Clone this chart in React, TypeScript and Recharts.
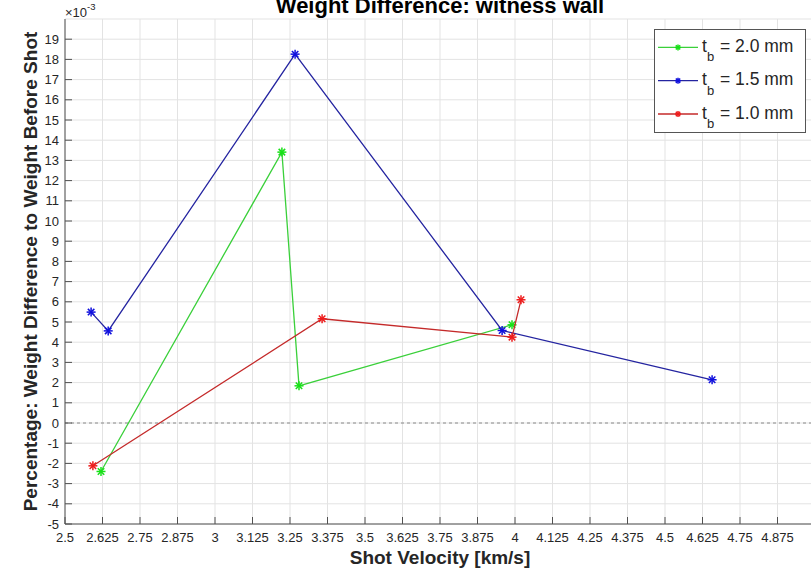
import React from 'react'
import {
  CartesianGrid,
  Legend,
  ReferenceLine,
  Scatter,
  ScatterChart,
  XAxis,
  YAxis,
} from 'recharts'

// shot velocity [km/s] and weight difference [x1e-3 %] per bumper thickness
const thickness = ['2.0', '1.5', '1.0']

const velocity20 = [2.62, 3.223, 3.28, 3.99]
const diff20 = [-2.4, 13.41, 1.84, 4.86]

const velocity15 = [2.587, 2.644, 3.267, 3.957, 4.657]
const diff15 = [5.49, 4.56, 18.26, 4.58, 2.14]

const velocity10 = [2.593, 3.357, 3.99, 4.02]
const diff10 = [-2.12, 5.16, 4.25, 6.1]

const xTicks = [
  2.5, 2.625, 2.75, 2.875, 3, 3.125, 3.25, 3.375, 3.5, 3.625, 3.75, 3.875,
  4, 4.125, 4.25, 4.375, 4.5, 4.625, 4.75, 4.875, 5,
]
const yTicks = [-5, -4, -3, -2, -1, 0, 1, 2, 3, 4, 5, 6, 7, 8, 9, 10, 11, 12, 13, 14, 15, 16, 17, 18, 19]

const X_MAX = 5
const FONT = '"Liberation Sans", Arial, Helvetica, sans-serif'
const AXIS = '#505050'
const TEXT = '#262626'
const TICK_LEN = 7

const toPoints = (xs: number[], ys: number[]) => xs.map((x, i) => ({ x, y: ys[i] }))

const series = [
  { name: thickness[0], line: '#3ad03a', marker: '#18e018', data: toPoints(velocity20, diff20) },
  { name: thickness[1], line: '#2424a0', marker: '#1010dd', data: toPoints(velocity15, diff15) },
  { name: thickness[2], line: '#c42a2a', marker: '#ee1c1c', data: toPoints(velocity10, diff10) },
]

// MATLAB-style '*' marker: a plus and an x on top of each other
function Asterisk({ cx, cy, color, r = 4.5 }: { cx: number; cy: number; color: string; r?: number }) {
  const d = r * 0.72
  return (
    <g stroke={color} strokeWidth={1.5}>
      <line x1={cx - r} x2={cx + r} y1={cy} y2={cy} />
      <line x1={cx} x2={cx} y1={cy - r} y2={cy + r} />
      <line x1={cx - d} x2={cx + d} y1={cy - d} y2={cy + d} />
      <line x1={cx - d} x2={cx + d} y1={cy + d} y2={cy - d} />
    </g>
  )
}

// ticks point inward; the last x tick sits on the right border and has no label
const BottomTick = ({ x, y, payload }: any) => (
  <g>
    <line x1={x} x2={x} y1={y} y2={y - TICK_LEN} stroke={AXIS} />
    {payload.value < X_MAX && (
      <text x={x} y={y + 18} textAnchor="middle" fontSize={13} fontFamily={FONT} fill={TEXT}>
        {payload.value}
      </text>
    )}
  </g>
)

const TopTick = ({ x, y }: any) => <line x1={x} x2={x} y1={y} y2={y + TICK_LEN} stroke={AXIS} />

const LeftTick = ({ x, y, payload }: any) => (
  <g>
    <line x1={x} x2={x + TICK_LEN} y1={y} y2={y} stroke={AXIS} />
    <text x={x - 6} y={y + 4.5} textAnchor="end" fontSize={13} fontFamily={FONT} fill={TEXT}>
      {payload.value}
    </text>
  </g>
)

const RightTick = ({ x, y }: any) => <line x1={x} x2={x - TICK_LEN} y1={y} y2={y} stroke={AXIS} />

function LegendBox() {
  return (
    <svg width={152} height={104} style={{ display: 'block' }}>
      <rect x={0.5} y={0.5} width={151} height={103} fill="#fff" stroke="#555" />
      {series.map((s, i) => {
        const cy = 18.4 + i * 33.3
        return (
          <g key={s.name}>
            <line x1={4} x2={44} y1={cy} y2={cy} stroke={s.line} strokeWidth={1.3} />
            <Asterisk cx={24} cy={cy} color={s.marker} r={3} />
            <text x={48} y={cy + 4.5} fontSize={17.5} fontFamily={FONT} fill={TEXT}>
              t
              <tspan fontSize={13} dy={9.5}>b</tspan>
              <tspan x={66} dy={-9.5}>= {s.name} mm</tspan>
            </text>
          </g>
        )
      })}
    </svg>
  )
}

export default function App() {
  return (
    <div style={{ position: 'absolute', left: 0, top: 0, width: 811, height: 573, overflow: 'hidden', background: '#fff' }}>
      <ScatterChart width={820} height={573} margin={{ top: 19, right: 5, bottom: 0, left: 0 }}>
        <CartesianGrid stroke="#e3e3e3" />
        <XAxis
          dataKey="x"
          type="number"
          domain={[2.5, X_MAX]}
          ticks={xTicks}
          interval={0}
          height={49}
          tickSize={0}
          tickMargin={0}
          stroke={AXIS}
          tick={<BottomTick />}
          label={(p: any) => (
            <text
              x={p.viewBox.x + p.viewBox.width / 2}
              y={p.viewBox.y + 40}
              textAnchor="middle"
              fontSize={19}
              fontWeight="bold"
              fontFamily={FONT}
              fill={TEXT}
            >
              Shot Velocity [km/s]
            </text>
          )}
        />
        <XAxis
          xAxisId="top"
          orientation="top"
          type="number"
          domain={[2.5, X_MAX]}
          ticks={xTicks}
          interval={0}
          height={0}
          tickSize={0}
          tickMargin={0}
          stroke={AXIS}
          tick={<TopTick />}
        />
        <YAxis
          dataKey="y"
          type="number"
          domain={[-5, 20]}
          ticks={yTicks}
          interval={0}
          width={65}
          tickSize={0}
          tickMargin={0}
          stroke={AXIS}
          tick={<LeftTick />}
          label={(p: any) => {
            const cy = p.viewBox.y + p.viewBox.height / 2
            return (
              <text
                x={37}
                y={cy}
                transform={`rotate(-90 37 ${cy})`}
                textAnchor="middle"
                fontSize={19}
                fontWeight="bold"
                fontFamily={FONT}
                fill={TEXT}
              >
                Percentage: Weight Difference to Weight Before Shot
              </text>
            )
          }}
        />
        <YAxis
          yAxisId="right"
          orientation="right"
          type="number"
          domain={[-5, 20]}
          ticks={yTicks}
          interval={0}
          width={0}
          tickSize={0}
          tickMargin={0}
          stroke={AXIS}
          tick={<RightTick />}
        />
        <ReferenceLine y={0} stroke="#8a8a8a" strokeDasharray="3 3" />
        {series.map((s) => (
          <Scatter
            key={s.name}
            name={s.name}
            data={s.data}
            line={{ stroke: s.line, strokeWidth: 1.3 }}
            shape={(p: any) => <Asterisk cx={p.cx} cy={p.cy} color={s.marker} />}
            isAnimationActive={false}
          />
        ))}
        <Legend
          layout="vertical"
          align="center"
          verticalAlign="middle"
          wrapperStyle={{ position: 'absolute', left: 654, top: 29, width: 152, height: 104 }}
          content={() => <LegendBox />}
        />
      </ScatterChart>
      <svg width={811} height={30} style={{ position: 'absolute', left: 0, top: 0, pointerEvents: 'none' }}>
        <text x={440} y={13} textAnchor="middle" fontSize={22} fontWeight="bold" fontFamily={FONT} fill="#000">
          Weight Difference: witness wall
        </text>
        <text x={65} y={16.5} fontSize={13} fontFamily={FONT} fill={TEXT}>
          ×10
          <tspan fontSize={9.5} dy={-6.5}>-3</tspan>
        </text>
      </svg>
    </div>
  )
}
